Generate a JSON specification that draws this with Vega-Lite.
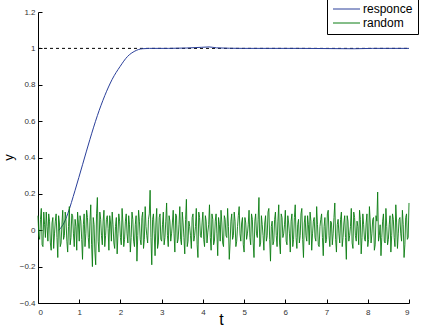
{
  "$schema": "https://vega.github.io/schema/vega-lite/v6.json",
  "width": 371,
  "height": 291,
  "autosize": "none",
  "padding": {"left": 38, "top": 12, "right": 16, "bottom": 25},
  "background": "white",
  "config": {
    "view": {"stroke": null},
    "font": "Liberation Sans",
    "axis": {"domainColor": "black", "tickColor": "black", "grid": false, "labelOverlap": false, "labelFont": "Liberation Sans", "labelFontSize": 8, "labelColor": "#333", "titleFont": "Liberation Sans", "titleFontWeight": "normal", "titleColor": "black"}
  },
  "datasets": {
    "ref": [{"t": 0, "y": 1}, {"t": 9, "y": 1}],
    "resp": [
      {"t": 0.5, "y": 0.0},
      {"t": 0.63, "y": 0.04},
      {"t": 0.72, "y": 0.09},
      {"t": 0.9, "y": 0.22},
      {"t": 1.08, "y": 0.36},
      {"t": 1.26, "y": 0.5},
      {"t": 1.44, "y": 0.63},
      {"t": 1.62, "y": 0.74},
      {"t": 1.8, "y": 0.83},
      {"t": 1.99, "y": 0.9},
      {"t": 2.17, "y": 0.955},
      {"t": 2.35, "y": 0.985},
      {"t": 2.53, "y": 0.998},
      {"t": 2.71, "y": 1.0},
      {"t": 3.16, "y": 1.0},
      {"t": 3.61, "y": 1.002},
      {"t": 3.97, "y": 1.006},
      {"t": 4.15, "y": 1.008},
      {"t": 4.33, "y": 1.003},
      {"t": 4.96, "y": 1.0},
      {"t": 6.32, "y": 1.0},
      {"t": 7.67, "y": 0.998},
      {"t": 8.12, "y": 1.0},
      {"t": 9.0, "y": 1.0}
    ],
    "noise": [
      {"t":0.00,"y":0.08},{"t":0.04,"y":-0.05},{"t":0.08,"y":0.12},{"t":0.12,"y":-0.09},{"t":0.16,"y":0.03},{"t":0.20,"y":0.10},{"t":0.24,"y":-0.06},{"t":0.28,"y":0.05},{"t":0.32,"y":-0.11},{"t":0.36,"y":0.07},
      {"t":0.40,"y":-0.02},{"t":0.44,"y":0.09},{"t":0.48,"y":-0.15},{"t":0.52,"y":0.04},{"t":0.56,"y":-0.07},{"t":0.60,"y":0.11},{"t":0.64,"y":-0.03},{"t":0.68,"y":0.06},{"t":0.72,"y":-0.12},{"t":0.76,"y":0.13},
      {"t":0.80,"y":-0.04},{"t":0.84,"y":0.08},{"t":0.88,"y":-0.09},{"t":0.92,"y":0.02},{"t":0.96,"y":0.10},{"t":1.00,"y":-0.06},{"t":1.04,"y":0.05},{"t":1.08,"y":-0.16},{"t":1.12,"y":0.09},{"t":1.16,"y":-0.02},
      {"t":1.20,"y":0.07},{"t":1.24,"y":-0.10},{"t":1.28,"y":0.14},{"t":1.32,"y":-0.20},{"t":1.36,"y":0.03},{"t":1.40,"y":-0.19},{"t":1.44,"y":0.18},{"t":1.48,"y":-0.12},{"t":1.52,"y":0.06},{"t":1.56,"y":-0.08},
      {"t":1.60,"y":0.11},{"t":1.64,"y":-0.03},{"t":1.68,"y":0.08},{"t":1.72,"y":-0.11},{"t":1.76,"y":0.04},{"t":1.80,"y":0.10},{"t":1.84,"y":-0.07},{"t":1.88,"y":0.02},{"t":1.92,"y":-0.13},{"t":1.96,"y":0.09},
      {"t":2.00,"y":-0.04},{"t":2.04,"y":0.12},{"t":2.08,"y":-0.09},{"t":2.12,"y":0.05},{"t":2.16,"y":-0.02},{"t":2.20,"y":0.08},{"t":2.24,"y":-0.12},{"t":2.28,"y":0.10},{"t":2.32,"y":-0.06},{"t":2.36,"y":0.03},
      {"t":2.40,"y":-0.17},{"t":2.44,"y":0.11},{"t":2.48,"y":-0.05},{"t":2.52,"y":0.07},{"t":2.56,"y":-0.10},{"t":2.60,"y":0.13},{"t":2.64,"y":-0.03},{"t":2.68,"y":0.06},{"t":2.72,"y":0.22},{"t":2.76,"y":-0.19},
      {"t":2.80,"y":0.09},{"t":2.84,"y":-0.14},{"t":2.88,"y":0.12},{"t":2.92,"y":-0.07},{"t":2.96,"y":0.09},{"t":3.00,"y":-0.06},{"t":3.04,"y":0.10},{"t":3.08,"y":-0.04},{"t":3.12,"y":0.15},{"t":3.16,"y":-0.09},
      {"t":3.20,"y":0.05},{"t":3.24,"y":-0.02},{"t":3.28,"y":0.11},{"t":3.32,"y":-0.12},{"t":3.36,"y":0.08},{"t":3.40,"y":-0.05},{"t":3.44,"y":0.13},{"t":3.48,"y":-0.08},{"t":3.52,"y":0.04},{"t":3.56,"y":-0.13},
      {"t":3.60,"y":0.17},{"t":3.64,"y":-0.06},{"t":3.68,"y":0.02},{"t":3.72,"y":-0.10},{"t":3.76,"y":0.09},{"t":3.80,"y":-0.03},{"t":3.84,"y":0.12},{"t":3.88,"y":-0.15},{"t":3.92,"y":0.07},{"t":3.96,"y":-0.04},
      {"t":4.00,"y":0.10},{"t":4.04,"y":-0.09},{"t":4.08,"y":0.05},{"t":4.12,"y":-0.01},{"t":4.16,"y":0.14},{"t":4.20,"y":-0.11},{"t":4.24,"y":0.06},{"t":4.28,"y":-0.06},{"t":4.32,"y":0.09},{"t":4.36,"y":-0.14},
      {"t":4.40,"y":0.03},{"t":4.44,"y":0.11},{"t":4.48,"y":-0.07},{"t":4.52,"y":0.08},{"t":4.56,"y":-0.03},{"t":4.60,"y":0.12},{"t":4.64,"y":-0.16},{"t":4.68,"y":0.05},{"t":4.72,"y":-0.05},{"t":4.76,"y":0.10},
      {"t":4.80,"y":-0.09},{"t":4.84,"y":0.02},{"t":4.88,"y":0.13},{"t":4.92,"y":-0.06},{"t":4.96,"y":0.07},{"t":5.00,"y":-0.12},{"t":5.04,"y":0.04},{"t":5.08,"y":-0.02},{"t":5.12,"y":0.11},{"t":5.16,"y":-0.08},
      {"t":5.20,"y":0.06},{"t":5.24,"y":-0.15},{"t":5.28,"y":0.09},{"t":5.32,"y":-0.04},{"t":5.36,"y":0.18},{"t":5.40,"y":-0.07},{"t":5.44,"y":0.03},{"t":5.48,"y":-0.11},{"t":5.52,"y":0.08},{"t":5.56,"y":-0.03},
      {"t":5.60,"y":0.12},{"t":5.64,"y":-0.17},{"t":5.68,"y":0.05},{"t":5.72,"y":-0.06},{"t":5.76,"y":0.10},{"t":5.80,"y":-0.09},{"t":5.84,"y":0.14},{"t":5.88,"y":-0.13},{"t":5.92,"y":0.07},{"t":5.96,"y":-0.02},
      {"t":6.00,"y":0.11},{"t":6.04,"y":-0.08},{"t":6.08,"y":0.04},{"t":6.12,"y":-0.12},{"t":6.16,"y":0.09},{"t":6.20,"y":-0.05},{"t":6.24,"y":0.14},{"t":6.28,"y":-0.10},{"t":6.32,"y":0.06},{"t":6.36,"y":-0.03},
      {"t":6.40,"y":0.12},{"t":6.44,"y":-0.15},{"t":6.48,"y":0.08},{"t":6.52,"y":-0.06},{"t":6.56,"y":0.03},{"t":6.60,"y":0.10},{"t":6.64,"y":-0.11},{"t":6.68,"y":0.05},{"t":6.72,"y":-0.04},{"t":6.76,"y":0.13},
      {"t":6.80,"y":-0.08},{"t":6.84,"y":0.02},{"t":6.88,"y":0.09},{"t":6.92,"y":-0.14},{"t":6.96,"y":0.07},{"t":7.00,"y":-0.05},{"t":7.04,"y":0.11},{"t":7.08,"y":-0.09},{"t":7.12,"y":0.04},{"t":7.16,"y":-0.02},
      {"t":7.20,"y":0.15},{"t":7.24,"y":-0.12},{"t":7.28,"y":0.06},{"t":7.32,"y":-0.07},{"t":7.36,"y":0.10},{"t":7.40,"y":-0.04},{"t":7.44,"y":0.08},{"t":7.48,"y":-0.16},{"t":7.52,"y":0.05},{"t":7.56,"y":-0.03},
      {"t":7.60,"y":0.12},{"t":7.64,"y":-0.10},{"t":7.68,"y":0.07},{"t":7.72,"y":-0.06},{"t":7.76,"y":0.02},{"t":7.80,"y":0.11},{"t":7.84,"y":-0.13},{"t":7.88,"y":0.09},{"t":7.92,"y":-0.05},{"t":7.96,"y":0.04},
      {"t":8.00,"y":-0.09},{"t":8.04,"y":0.13},{"t":8.08,"y":-0.07},{"t":8.12,"y":0.06},{"t":8.16,"y":-0.11},{"t":8.20,"y":0.08},{"t":8.24,"y":0.21},{"t":8.28,"y":-0.03},{"t":8.32,"y":-0.14},{"t":8.36,"y":0.05},
      {"t":8.40,"y":-0.06},{"t":8.44,"y":0.12},{"t":8.48,"y":-0.08},{"t":8.52,"y":0.03},{"t":8.56,"y":-0.12},{"t":8.60,"y":0.09},{"t":8.64,"y":-0.04},{"t":8.68,"y":0.14},{"t":8.72,"y":-0.10},{"t":8.76,"y":0.06},
      {"t":8.80,"y":-0.02},{"t":8.84,"y":0.11},{"t":8.88,"y":-0.15},{"t":8.92,"y":0.07},{"t":8.96,"y":-0.05},{"t":9.00,"y":0.15},
      {"t":0.02,"y":-0.03},{"t":0.06,"y":0.06},{"t":0.10,"y":-0.08},{"t":0.14,"y":0.10},{"t":0.18,"y":-0.04},{"t":0.22,"y":0.02},{"t":0.26,"y":0.09},{"t":0.30,"y":-0.07},{"t":0.34,"y":0.04},{"t":0.38,"y":-0.10},
      {"t":0.42,"y":0.05},{"t":0.46,"y":-0.04},{"t":0.50,"y":0.08},{"t":0.54,"y":-0.09},{"t":0.58,"y":0.03},{"t":0.62,"y":-0.05},{"t":0.66,"y":0.10},{"t":0.70,"y":-0.06},{"t":0.74,"y":0.02},{"t":0.78,"y":-0.08},
      {"t":0.82,"y":0.09},{"t":0.86,"y":-0.02},{"t":0.90,"y":0.06},{"t":0.94,"y":-0.11},{"t":0.98,"y":0.04},{"t":1.02,"y":0.08},{"t":1.06,"y":-0.05},{"t":1.10,"y":0.03},{"t":1.14,"y":-0.09},{"t":1.18,"y":0.11},
      {"t":1.22,"y":-0.04},{"t":1.26,"y":0.05},{"t":1.30,"y":-0.08},{"t":1.34,"y":0.07},{"t":1.38,"y":-0.12},{"t":1.42,"y":0.09},{"t":1.46,"y":-0.06},{"t":1.50,"y":0.10},{"t":1.54,"y":-0.03},{"t":1.58,"y":0.05},
      {"t":1.62,"y":-0.09},{"t":1.66,"y":0.06},{"t":1.70,"y":0.01},{"t":1.74,"y":0.08},{"t":1.78,"y":-0.06},{"t":1.82,"y":0.03},{"t":1.86,"y":-0.10},{"t":1.90,"y":0.07},{"t":1.94,"y":-0.02},{"t":1.98,"y":0.05},
      {"t":2.02,"y":-0.08},{"t":2.06,"y":0.04},{"t":2.10,"y":-0.05},{"t":2.14,"y":0.09},{"t":2.18,"y":-0.07},{"t":2.22,"y":0.03},{"t":2.26,"y":-0.04},{"t":2.30,"y":0.06},{"t":2.34,"y":-0.09},{"t":2.38,"y":0.08},
      {"t":2.42,"y":-0.03},{"t":2.46,"y":0.05},{"t":2.50,"y":-0.08},{"t":2.54,"y":0.10},{"t":2.58,"y":-0.05},{"t":2.62,"y":0.02},{"t":2.66,"y":-0.07},{"t":2.70,"y":0.09},{"t":2.74,"y":-0.04},{"t":2.78,"y":0.06},
      {"t":2.82,"y":-0.02},{"t":2.86,"y":0.04},{"t":2.90,"y":-0.10},{"t":2.94,"y":0.07},{"t":2.98,"y":-0.05},{"t":3.02,"y":0.03},{"t":3.06,"y":-0.08},{"t":3.10,"y":0.05},{"t":3.14,"y":-0.03},{"t":3.18,"y":0.08},
      {"t":3.22,"y":-0.06},{"t":3.26,"y":0.04},{"t":3.30,"y":-0.02},{"t":3.34,"y":0.09},{"t":3.38,"y":-0.07},{"t":3.42,"y":0.03},{"t":3.46,"y":-0.05},{"t":3.50,"y":0.10},{"t":3.54,"y":-0.04},{"t":3.58,"y":0.06},
      {"t":3.62,"y":-0.09},{"t":3.66,"y":0.05},{"t":3.70,"y":-0.03},{"t":3.74,"y":0.07},{"t":3.78,"y":-0.06},{"t":3.82,"y":0.02},{"t":3.86,"y":-0.08},{"t":3.90,"y":0.10},{"t":3.94,"y":-0.03},{"t":3.98,"y":0.04},
      {"t":4.02,"y":-0.05},{"t":4.06,"y":0.08},{"t":4.10,"y":-0.07},{"t":4.14,"y":0.03},{"t":4.18,"y":-0.04},{"t":4.22,"y":0.09},{"t":4.26,"y":-0.08},{"t":4.30,"y":0.05},{"t":4.34,"y":-0.02},{"t":4.38,"y":0.07},
      {"t":4.42,"y":-0.06},{"t":4.46,"y":0.04},{"t":4.50,"y":-0.09},{"t":4.54,"y":0.06},{"t":4.58,"y":-0.04},{"t":4.62,"y":0.02},{"t":4.66,"y":-0.07},{"t":4.70,"y":0.09},{"t":4.74,"y":-0.03},{"t":4.78,"y":0.05},
      {"t":4.82,"y":-0.06},{"t":4.86,"y":0.08},{"t":4.90,"y":-0.02},{"t":4.94,"y":0.04},{"t":4.98,"y":-0.08},{"t":5.02,"y":0.07},{"t":5.06,"y":-0.05},{"t":5.10,"y":0.03},{"t":5.14,"y":-0.04},{"t":5.18,"y":0.09},
      {"t":5.22,"y":-0.07},{"t":5.26,"y":0.05},{"t":5.30,"y":-0.02},{"t":5.34,"y":0.06},{"t":5.38,"y":-0.09},{"t":5.42,"y":0.08},{"t":5.46,"y":-0.03},{"t":5.50,"y":0.04},{"t":5.54,"y":-0.06},{"t":5.58,"y":0.10},
      {"t":5.62,"y":-0.05},{"t":5.66,"y":0.02},{"t":5.70,"y":-0.08},{"t":5.74,"y":0.06},{"t":5.78,"y":-0.03},{"t":5.82,"y":0.05},{"t":5.86,"y":-0.07},{"t":5.90,"y":0.09},{"t":5.94,"y":-0.04},{"t":5.98,"y":0.03},
      {"t":6.02,"y":-0.06},{"t":6.06,"y":0.08},{"t":6.10,"y":-0.02},{"t":6.14,"y":0.05},{"t":6.18,"y":-0.09},{"t":6.22,"y":0.07},{"t":6.26,"y":-0.04},{"t":6.30,"y":0.03},{"t":6.34,"y":-0.07},{"t":6.38,"y":0.09},
      {"t":6.42,"y":-0.05},{"t":6.46,"y":0.04},{"t":6.50,"y":-0.03},{"t":6.54,"y":0.08},{"t":6.58,"y":-0.08},{"t":6.62,"y":0.05},{"t":6.66,"y":-0.02},{"t":6.70,"y":0.07},{"t":6.74,"y":-0.06},{"t":6.78,"y":0.03},
      {"t":6.82,"y":-0.09},{"t":6.86,"y":0.06},{"t":6.90,"y":-0.04},{"t":6.94,"y":0.02},{"t":6.98,"y":-0.07},{"t":7.02,"y":0.09},{"t":7.06,"y":-0.03},{"t":7.10,"y":0.05},{"t":7.14,"y":-0.08},{"t":7.18,"y":0.07},
      {"t":7.22,"y":-0.05},{"t":7.26,"y":0.03},{"t":7.30,"y":-0.02},{"t":7.34,"y":0.06},{"t":7.38,"y":-0.09},{"t":7.42,"y":0.04},{"t":7.46,"y":-0.04},{"t":7.50,"y":0.08},{"t":7.54,"y":-0.06},{"t":7.58,"y":0.02},
      {"t":7.62,"y":-0.07},{"t":7.66,"y":0.10},{"t":7.70,"y":-0.03},{"t":7.74,"y":0.05},{"t":7.78,"y":-0.08},{"t":7.82,"y":0.06},{"t":7.86,"y":-0.04},{"t":7.90,"y":0.03},{"t":7.94,"y":-0.06},{"t":7.98,"y":0.09},
      {"t":8.02,"y":-0.05},{"t":8.06,"y":0.04},{"t":8.10,"y":-0.02},{"t":8.14,"y":0.07},{"t":8.18,"y":-0.08},{"t":8.22,"y":0.05},{"t":8.26,"y":-0.06},{"t":8.30,"y":0.03},{"t":8.34,"y":-0.04},{"t":8.38,"y":0.09},
      {"t":8.42,"y":-0.07},{"t":8.46,"y":0.02},{"t":8.50,"y":-0.05},{"t":8.54,"y":0.08},{"t":8.58,"y":-0.03},{"t":8.62,"y":0.06},{"t":8.66,"y":-0.09},{"t":8.70,"y":0.04},{"t":8.74,"y":-0.02},{"t":8.78,"y":0.07},
      {"t":8.82,"y":-0.06},{"t":8.86,"y":0.03},{"t":8.90,"y":-0.08},{"t":8.94,"y":0.09},{"t":8.98,"y":-0.04}
    ]
  },
  "encoding": {
    "x": {
      "field": "t", "type": "quantitative",
      "scale": {"domain": [0, 9], "nice": false},
      "axis": {"values": [0,1,2,3,4,5,6,7,8,9], "labelOverlap": false, "format": ".1~f", "tickSize": -4, "labelPadding": 9, "title": "t", "titleFontSize": 16, "titleX": 183, "titleY": 16, "titleBaseline": "middle"}
    },
    "y": {
      "field": "y", "type": "quantitative",
      "scale": {"domain": [-0.4, 1.2], "nice": false},
      "axis": {"values": [-0.4,-0.2,0,0.2,0.4,0.6,0.8,1,1.2], "labelOverlap": false, "format": ".1~f", "tickSize": -4, "labelPadding": 7, "title": "y", "titleFontSize": 13, "titleX": -30, "titleY": 145, "titleBaseline": "middle"}
    }
  },
  "layer": [
    {
      "data": {"name": "ref"},
      "mark": {"type": "line", "color": "black", "strokeDash": [3, 3], "strokeWidth": 1}
    },
    {
      "data": {"name": "resp"},
      "mark": {"type": "line", "strokeWidth": 1, "interpolate": "monotone"},
      "encoding": {
        "color": {"datum": "responce", "type": "nominal"}
      }
    },
    {
      "data": {"name": "noise"},
      "mark": {"type": "line", "strokeWidth": 0.9},
      "encoding": {
        "color": {
          "datum": "random", "type": "nominal",
          "scale": {"domain": ["responce", "random"], "range": ["#2a3f9a", "#0b7d12"]},
          "legend": {"title": null, "orient": "none", "legendX": 289, "legendY": -14, "strokeColor": "black", "fillColor": "white", "padding": 5, "symbolType": "M-1,0H4.4", "symbolSize": 100, "symbolStrokeWidth": 1, "labelFontSize": 12, "labelFont": "Liberation Sans", "labelColor": "black", "labelOffset": 19, "rowPadding": 2, "cornerRadius": 0}
        }
      }
    }
  ]
}
